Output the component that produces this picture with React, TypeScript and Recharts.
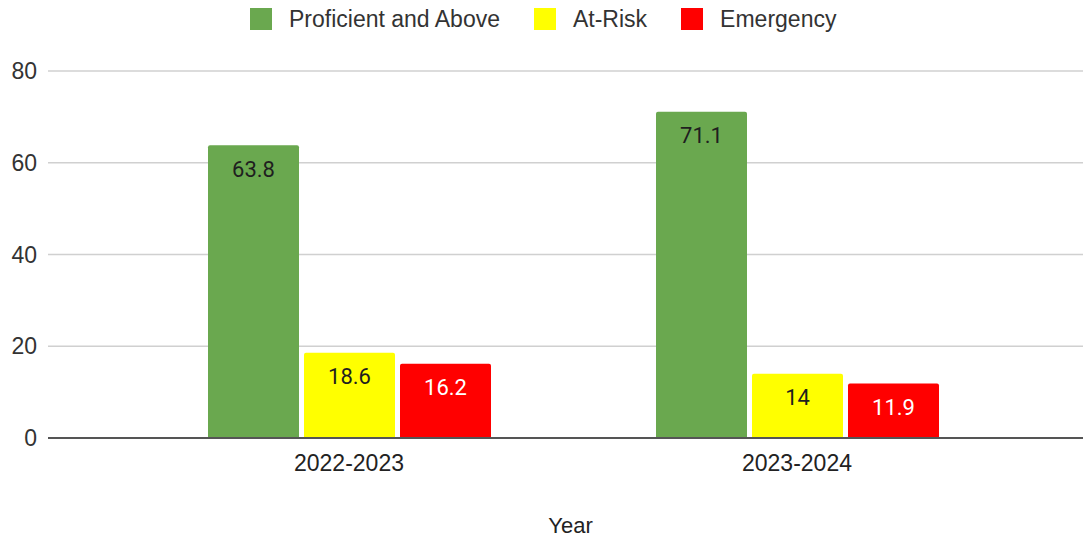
import React from 'react';
import { BarChart, Bar, XAxis, YAxis, CartesianGrid, Legend, LabelList, Label } from 'recharts';

const years = ['2022-2023', '2023-2024'];
const proficient = [63.8, 71.1];
const atRisk = [18.6, 14];
const emergency = [16.2, 11.9];
const yTicks = [0, 20, 40, 60, 80];

const SERIES = [
  { key: 'proficient', name: 'Proficient and Above', color: '#6aa84f', text: '#1f1f1f' },
  { key: 'atRisk', name: 'At-Risk', color: '#ffff00', text: '#1f1f1f' },
  { key: 'emergency', name: 'Emergency', color: '#ff0000', text: '#ffffff' },
];

const data = years.map((year, i) => ({
  year,
  proficient: proficient[i],
  atRisk: atRisk[i],
  emergency: emergency[i],
}));

const AXIS_FONT = '"Liberation Sans", Arial, sans-serif';

// legend drawn as plain html so the spacing can match the original
const TopLegend = () => (
  <div style={{ height: 71, paddingLeft: 250, paddingTop: 8, boxSizing: 'border-box', display: 'flex', alignItems: 'flex-start' }}>
    {SERIES.map((s) => (
      <div key={s.key} style={{ display: 'flex', alignItems: 'center', marginRight: 34, height: 22 }}>
        <div style={{ width: 22, height: 22, background: s.color, marginRight: 17 }} />
        <span style={{ fontFamily: AXIS_FONT, fontSize: 23, color: '#333', lineHeight: '22px' }}>{s.name}</span>
      </div>
    ))}
  </div>
);

const App: React.FC = () => {
  return (
    <div style={{ position: 'absolute', left: 0, top: 0, width: 1083, height: 537, background: '#fff' }}>
      <BarChart
        width={1083}
        height={537}
        data={data}
        margin={{ top: 0, right: 0, bottom: 0, left: 0 }}
        barSize={91}
        barGap={5}
        style={{ fontFamily: AXIS_FONT }}
      >
        <CartesianGrid vertical={false} stroke="#d0d0d0" strokeWidth={1.5} />
        <XAxis
          dataKey="year"
          height={99}
          padding={{ left: 77, right: 62 }}
          tickLine={false}
          tickSize={0}
          tickMargin={17}
          axisLine={{ stroke: '#555', strokeWidth: 2 }}
          tick={{ fontSize: 23, fill: '#222', fontFamily: AXIS_FONT }}
        >
          <Label value="Year" position="insideBottom" offset={4} dx={5} style={{ fontSize: 22, fill: '#222', fontFamily: AXIS_FONT }} />
        </XAxis>
        <YAxis
          width={48}
          domain={[0, 80]}
          ticks={yTicks}
          axisLine={false}
          tickLine={false}
          tickSize={0}
          tickMargin={11}
          tick={{ fontSize: 23, fill: '#333', fontFamily: AXIS_FONT }}
        />
        <Legend verticalAlign="top" content={<TopLegend />} wrapperStyle={{ top: 0, left: 0, width: 1083 }} />
        {SERIES.map((s) => (
          <Bar key={s.key} dataKey={s.key} name={s.name} fill={s.color} radius={[2, 2, 0, 0]} isAnimationActive={false}>
            <LabelList
              dataKey={s.key}
              position="insideTop"
              offset={16}
              fill={s.text}
              style={{ fontSize: 22, fontFamily: 'Roboto, sans-serif' }}
            />
          </Bar>
        ))}
      </BarChart>
    </div>
  );
};

export default App;
